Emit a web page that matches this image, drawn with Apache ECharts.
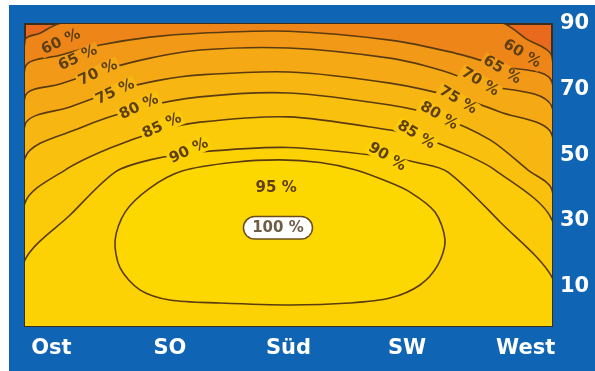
<!DOCTYPE html>
<html>
<head>
<meta charset="utf-8">
<title>Ertrag nach Ausrichtung und Neigung</title>
<style>
  html, body { margin: 0; padding: 0; background: #fff; }
  #main { position: absolute; left: 9px; top: 5px; width: 586px; height: 366px; }
</style>
</head>
<body>
<div id="main"></div>
<script src="https://cdn.jsdelivr.net/npm/echarts@6/dist/echarts.min.js"></script>
<script>
// Ausrichtung als Azimut: Ost = -90, Süd = 0, West = 90; Neigung in Grad
var directions = ['Ost', 'SO', 'Süd', 'SW', 'West'];
var directionAz = [-90, -45, 0, 45, 90];
var tiltTicks = [10, 30, 50, 70, 90];

// Isolinien [Azimut, Neigung]
var c60 = [[-100, 85.1], [-94.3, 87.2], [-87.5, 90.0], [-60, 95.5], [0, 98], [60, 95.5], [82.2, 90.0], [89.8, 85.7], [100, 79.9]];
var c65 = [[-100, 76.6], [-86.7, 80.5], [-71.5, 83.6], [-52.6, 86.0], [-33.6, 87.2], [0, 87.8], [38.5, 85.1], [61.3, 81.5], [80.3, 77.2], [100, 72.3]];
var c70 = [[-100, 67.8], [-86.7, 71.7], [-71.5, 75.7], [-52.6, 79.6], [-33.6, 82.1], [0, 82.7], [38.5, 79.6], [57.5, 76.0], [72.7, 71.7], [100, 64.7]];
var c75 = [[-100, 59.2], [-82.9, 64.7], [-64.7, 69.9], [-48.8, 72.9], [-33.6, 74.5], [0, 75.4], [38.5, 72.0], [64.3, 67.5], [80.3, 63.2], [100, 56.2]];
var c80 = [[-100, 49.2], [-79.1, 58.3], [-56.4, 64.4], [-33.6, 67.8], [0, 69.0], [38.5, 65.3], [57.5, 61.7], [76.5, 54.7], [90.9, 45.5], [100, 39.4]];
var c85 = [[-100, 35.5], [-84.8, 45.5], [-67.7, 52.2], [-48.0, 57.7], [-33.6, 60.1], [0, 61.7], [38.5, 57.7], [48.8, 55.9], [65.1, 51.0], [78.4, 45.5], [100, 30.3]];
var c90 = [[-100, 18.1], [-82.9, 31.8], [-65.8, 44.9], [-52.6, 48.6], [-33.6, 51.0], [0, 52.4], [37.4, 49.5], [49.9, 47.6], [60.5, 44.9], [80.3, 29.7], [100, 12.9]];
var loop95 = [[-40.4, 45.2], [-52.6, 40.0], [-62.0, 32.7], [-65.8, 24.2], [-63.9, 15.7], [-56.4, 9.0], [-45.0, 5.9], [-26.0, 5.0], [0.6, 4.4],
  [23.3, 5.0], [38.5, 6.5], [49.9, 10.5], [56.7, 16.6], [59.4, 24.2], [55.6, 32.7], [46.1, 38.8], [36.6, 42.3], [25.2, 45.6], [12.0, 47.8], [-3.2, 48.6], [-20.3, 47.9]];
var levels = [60, 65, 70, 75, 80, 85, 90, 95];
var contours = [c60, c65, c70, c75, c80, c85, c90, loop95];

// Beschriftungen
var labelText = ['60 %', '65 %', '70 %', '75 %', '80 %', '85 %', '90 %',
  '60 %', '65 %', '70 %', '75 %', '80 %', '85 %', '90 %', '95 %', '100 %'];
var labelLevel = [60, 65, 70, 75, 80, 85, 90, 60, 65, 70, 75, 80, 85, 90, 95, 100];
var labelPos = [[-86.3, 84.5], [-79.9, 79.6], [-72.3, 75.1], [-65.8, 69.3], [-56.7, 64.7], [-48.0, 58.9], [-37.8, 51.3],
  [88.6, 80.9], [81.0, 76.0], [72.7, 72.3], [64.3, 66.8], [57.1, 62.0], [48.4, 56.2], [37.4, 49.5], [-4.7, 40.0], [-4.0, 27.9]];
var labelRot = [25, 25, 25, 25, 25, 25, 25, -31, -31, -31, -31, -31, -31, -31, 0, 0];

var belowColor = '#e96a1c';
var bandColors = ['#ee8519', '#f29a17', '#f5a914', '#f7b611', '#f9c10d', '#fbca09', '#fcd205', '#fdd800'];
var lineColor = '#5a3b12';

var chart = echarts.init(document.getElementById('main'));
chart.setOption({
  backgroundColor: '#0f64b4',
  animation: false,
  grid: {
    left: 16, right: 43, top: 19, bottom: 45,
    show: true, backgroundColor: belowColor, borderColor: '#3a2f1c', borderWidth: 2
  },
  xAxis: {
    type: 'value', min: -100, max: 100,
    axisLine: { show: false }, axisTick: { show: false }, splitLine: { show: false },
    axisLabel: {
      customValues: directionAz,
      formatter: function (v) { return directions[directionAz.indexOf(v)]; },
      color: '#fff', fontSize: 21, fontWeight: 'bold', fontFamily: 'DejaVu Sans', margin: 12
    }
  },
  yAxis: {
    type: 'value', position: 'right', min: -2, max: 90,
    axisLine: { show: false }, axisTick: { show: false }, splitLine: { show: false },
    axisLabel: {
      customValues: tiltTicks,
      color: '#fff', fontSize: 21, fontWeight: 'bold', fontFamily: 'DejaVu Sans', margin: 8
    }
  },
  series: [
    {
      type: 'custom',
      clip: true,
      data: levels.map(function (lv, i) { return [i]; }),
      renderItem: function (params, api) {
        var i = params.dataIndex;
        var pts = contours[i];
        if (levels[i] !== 95) pts = pts.concat([[106, -8], [-106, -8]]);
        return {
          type: 'polygon',
          shape: { points: pts.map(function (p) { return api.coord(p); }), smooth: 0.3 },
          style: { fill: bandColors[i], stroke: lineColor, lineWidth: 1.6 }
        };
      }
    },
    {
      type: 'custom',
      clip: true,
      data: labelText.map(function (t, i) { return [i]; }),
      renderItem: function (params, api) {
        var i = params.dataIndex;
        var pt = api.coord(labelPos[i]);
        var boxed = labelLevel[i] === 100;
        var style = {
          text: labelText[i], x: 0, y: 0,
          fill: boxed ? '#6e5c46' : '#5e3f14',
          font: 'bold 15px "DejaVu Sans"',
          align: 'center', verticalAlign: 'middle'
        };
        if (boxed) {
          style.backgroundColor = '#fff';
          style.borderColor = '#6b4d1a';
          style.borderWidth = 1.5;
          style.borderRadius = 13;
          style.padding = [3, 8];
        } else {
          // die Linie wird unter der Beschriftung unterbrochen
          style.backgroundColor = bandColors[levels.indexOf(labelLevel[i])];
          style.padding = [0, 2];
        }
        return {
          type: 'text', x: pt[0], y: pt[1],
          rotation: labelRot[i] * Math.PI / 180,
          style: style
        };
      }
    }
  ]
});
</script>
</body>
</html>
